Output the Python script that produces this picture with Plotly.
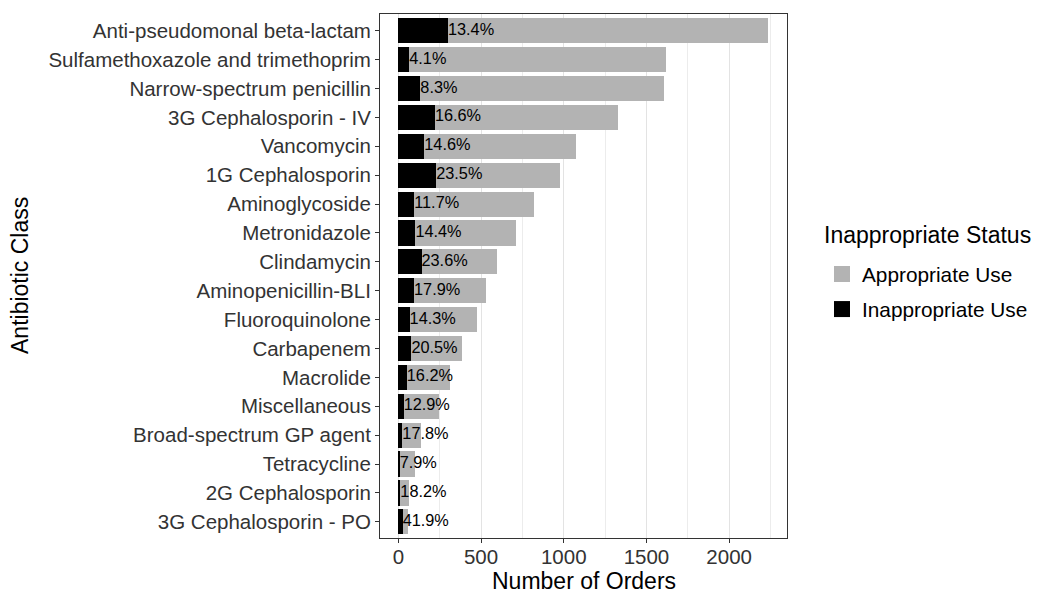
import plotly.graph_objects as go

categories = [
    "Anti-pseudomonal beta-lactam", "Sulfamethoxazole and trimethoprim",
    "Narrow-spectrum penicillin", "3G Cephalosporin - IV", "Vancomycin",
    "1G Cephalosporin", "Aminoglycoside", "Metronidazole", "Clindamycin",
    "Aminopenicillin-BLI", "Fluoroquinolone", "Carbapenem", "Macrolide",
    "Miscellaneous", "Broad-spectrum GP agent", "Tetracycline",
    "2G Cephalosporin", "3G Cephalosporin - PO",
]
inappropriate = [300, 66, 133, 221, 157, 229, 96, 103, 140, 95, 68, 79, 51, 32, 24, 8, 12, 26]
appropriate = [1938, 1552, 1472, 1110, 916, 747, 727, 609, 455, 437, 406, 304, 262, 214, 111, 91, 53, 35]
pct_labels = ["13.4%", "4.1%", "8.3%", "16.6%", "14.6%", "23.5%", "11.7%", "14.4%", "23.6%",
              "17.9%", "14.3%", "20.5%", "16.2%", "12.9%", "17.8%", "7.9%", "18.2%", "41.9%"]
legend_title = "Inappropriate Status"
x_title = "Number of Orders"
y_title = "Antibiotic Class"
legend_names = ["Appropriate Use", "Inappropriate Use"]
legend_colors = ["#b3b3b3", "black"]

FONT = "Liberation Sans, Arial, sans-serif"
W, H = 1037, 594
ML, MR, MT, MB = 380, 250, 14, 56
PW, PH = W - ML - MR, H - MT - MB

fig = go.Figure()
fig.add_trace(go.Bar(
    y=categories, x=inappropriate, orientation="h", name="Inappropriate Use",
    marker=dict(color="black", line=dict(width=0)), showlegend=False,
))
fig.add_trace(go.Bar(
    y=categories, x=appropriate, orientation="h", name="Appropriate Use",
    marker=dict(color="#b3b3b3", line=dict(width=0)), showlegend=False,
))
fig.add_trace(go.Scatter(
    y=categories, x=inappropriate, mode="text", text=pct_labels,
    textposition="middle right", textfont=dict(size=16.3, color="black", family=FONT),
    showlegend=False, hoverinfo="skip", cliponaxis=False,
))
# legend keys
for name, col in zip(legend_names, legend_colors):
    fig.add_trace(go.Scatter(
        x=[None], y=[None], mode="markers", name=name, legendgroup=name,
        marker=dict(symbol="square", size=22, color=col, line=dict(width=0)),
    ))

fig.update_layout(
    width=W, height=H,
    barmode="stack", bargap=0.13,
    plot_bgcolor="white", paper_bgcolor="white",
    margin=dict(l=ML, r=MR, t=MT, b=MB),
    font=dict(family=FONT, color="black"),
    legend=dict(
        font=dict(size=20.8, color="black"),
        traceorder="grouped", itemsizing="trace", tracegroupgap=5,
        xref="container", yref="container",
        x=822 / W, xanchor="left", y=1 - 254 / H, yanchor="top",
        bgcolor="rgba(0,0,0,0)",
    ),
    annotations=[
        dict(text=legend_title, xref="paper", yref="paper",
             x=(822 - ML) / PW, xanchor="left",
             y=(H - MB - 235) / PH, yanchor="middle",
             showarrow=False, font=dict(size=23, color="black")),
        dict(text=x_title, xref="paper", yref="paper",
             x=0.5, xanchor="center",
             y=(H - MB - 581) / PH, yanchor="middle",
             showarrow=False, font=dict(size=23, color="black")),
        dict(text=y_title, xref="paper", yref="paper", textangle=-90,
             x=(20 - ML) / PW, xanchor="center",
             y=0.5, yanchor="middle",
             showarrow=False, font=dict(size=23, color="black")),
    ],
)
fig.update_xaxes(
    range=[-111, 2350], dtick=500, tick0=0, automargin=False,
    showgrid=True, gridcolor="#e3e3e3", gridwidth=1.2,
    minor=dict(dtick=250, tick0=0, showgrid=True, gridcolor="#ececec", gridwidth=0.8),
    zeroline=False,
    showline=True, mirror=True, linecolor="#333333", linewidth=1,
    ticks="outside", ticklen=4, tickcolor="#333333", ticklabelstandoff=-4,
    tickfont=dict(size=20.5, color="#333333"),
)
fig.update_yaxes(
    categoryorder="array", categoryarray=categories[::-1], automargin=False,
    showgrid=False, zeroline=False,
    showline=True, mirror=True, linecolor="#333333", linewidth=1,
    ticks="outside", ticklen=4, tickcolor="#333333",
    tickfont=dict(size=20.5, color="#333333"),
    range=[-0.56, 17.58],
)

fig.write_html("out.html", config={"displayModeBar": False},
               post_script="document.body.style.margin='0';")
